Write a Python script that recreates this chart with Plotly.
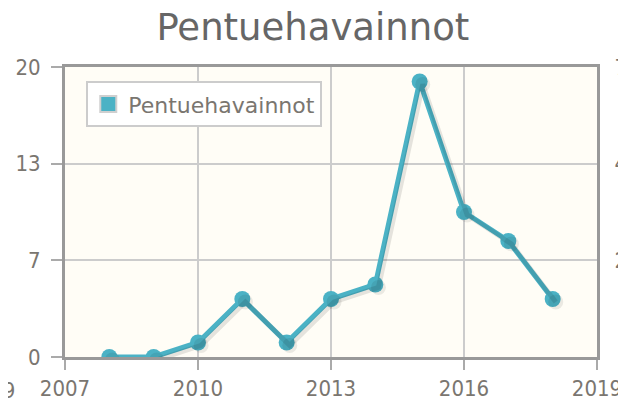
import plotly.graph_objects as go

years = [2008, 2009, 2010, 2011, 2012, 2013, 2014, 2015, 2016, 2017, 2018]
counts = [0, 0, 1, 4, 1, 4, 5, 19, 10, 8, 4]

y_tickvals = [0, 20 / 3, 40 / 3, 20]
y_ticktext = ["0", "7", "13", "20"]
x_tickvals = [2007, 2010, 2013, 2016, 2019]
y2_tickvals = [70 / 3, 140 / 3, 70]
y2_ticktext = ["23", "47", "70"]

color = "#4bb2c5"
lab_font = dict(family="DejaVu Sans Condensed", size=22, color="#7a7670")

fig = go.Figure()
# shadow
fig.add_trace(go.Scatter(
    x=years, y=counts, mode="lines+markers",
    line=dict(color="rgba(0,0,0,0.10)", width=5),
    marker=dict(size=15, color="rgba(0,0,0,0.08)"),
    showlegend=False, hoverinfo="skip", xaxis="x3", yaxis="y3",
))
fig.add_trace(go.Scatter(
    x=years, y=counts, mode="lines+markers",
    line=dict(color=color, width=5),
    marker=dict(size=16, color=color),
    showlegend=False, name="Pentuehavainnot",
))
fig.add_trace(go.Scatter(
    x=[None], y=[None], mode="markers", name="Pentuehavainnot",
    marker=dict(symbol="square", size=22, color=color,
                line=dict(color="#cfcfcf", width=2)),
    showlegend=True,
))
# right axis (only labels)
fig.add_trace(go.Scatter(x=[None], y=[None], yaxis="y2", showlegend=False))

fig.update_layout(
    width=626, height=405,
    margin=dict(l=57, r=37, t=59, b=56, autoexpand=False),
    paper_bgcolor="white",
    plot_bgcolor="#fffdf6",
    title=dict(text="Pentuehavainnot", x=0.487, xanchor="center", y=0.953, yanchor="middle",
               font=dict(family="DejaVu Sans", size=37, color="#666666")),
    xaxis=dict(range=[2007, 2019], tickvals=x_tickvals, ticks="outside", ticklen=10,
               tickcolor="#aaaaaa", tickwidth=2, automargin=False,
               showgrid=True, gridcolor="#cccccc", gridwidth=2,
               showline=True, linecolor="#999999", linewidth=3, mirror=True,
               zeroline=False, tickfont=lab_font),
    yaxis=dict(range=[0, 20], tickvals=y_tickvals, ticktext=y_ticktext, ticks="outside",
               ticklen=11, tickcolor="#aaaaaa", tickwidth=2, automargin=False,
               ticklabelstandoff=6,
               showgrid=True, gridcolor="#cccccc", gridwidth=2,
               showline=True, linecolor="#999999", linewidth=3, mirror=True,
               zeroline=False, tickfont=lab_font),
    yaxis2=dict(range=[0, 70], overlaying="y", side="right", tickvals=y2_tickvals,
                ticktext=y2_ticktext, ticks="outside", ticklen=12, automargin=False,
                tickcolor="rgba(0,0,0,0)", showgrid=False, zeroline=False,
                showline=False, tickfont=lab_font),
    xaxis3=dict(range=[2007 - 0.07, 2019 - 0.07], overlaying="x", visible=False),
    yaxis3=dict(range=[0 + 0.2, 20 + 0.2], overlaying="y", visible=False),
    legend=dict(x=0.04, y=0.872, xanchor="left", yanchor="middle",
                bgcolor="white", bordercolor="#cccccc", borderwidth=2,
                font=dict(family="DejaVu Sans", size=22, color="#7a7670"),
                itemsizing="trace", tracegroupgap=0),
    showlegend=True,
)
fig.add_annotation(text="2019", xref="paper", yref="paper", x=-0.090, y=-0.114,
                   xanchor="right", yanchor="middle", showarrow=False, font=lab_font)

fig.write_html("out.html")
